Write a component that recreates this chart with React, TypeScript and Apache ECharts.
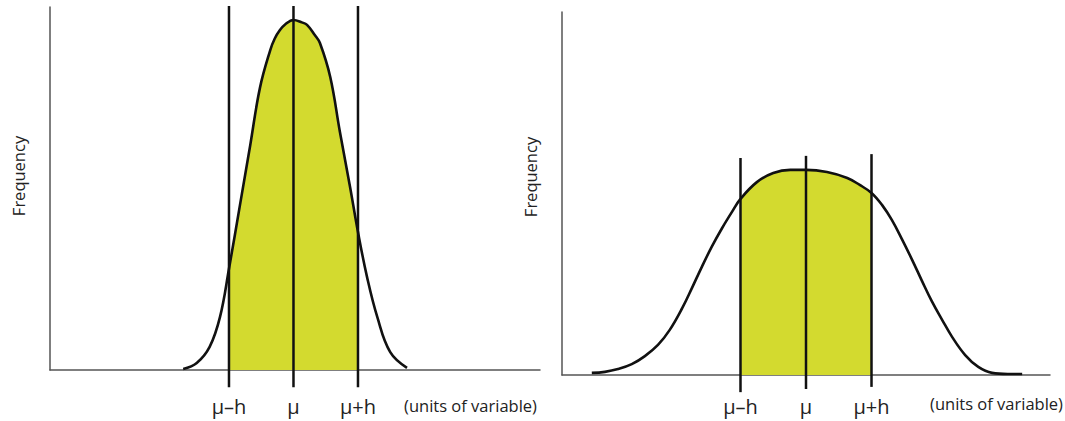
import React, { useEffect, useRef } from "react";
import * as echarts from "echarts";

// x in units of h around the mean (μ = 0), y = relative frequency
const leftCurveX = [-1.71, -1.5, -1.3, -1.14, -1.0, -0.83, -0.67, -0.52, -0.36, -0.29, -0.21, -0.13, 0, 0.13, 0.21, 0.33, 0.41, 0.57, 0.72, 0.88, 1.0, 1.14, 1.3, 1.5, 1.76];
const leftCurveY = [0.003, 0.02, 0.066, 0.151, 0.289, 0.471, 0.643, 0.806, 0.914, 0.947, 0.971, 0.987, 1.0, 0.993, 0.986, 0.957, 0.934, 0.837, 0.68, 0.52, 0.394, 0.266, 0.151, 0.051, 0.006];

const rightCurveX = [-3.27, -3.07, -2.87, -2.66, -2.46, -2.26, -2.08, -1.89, -1.74, -1.59, -1.44, -1.28, -1.13, -1.0, -0.75, -0.5, -0.24, 0, 0.32, 0.63, 0.82, 1.0, 1.16, 1.31, 1.47, 1.62, 1.77, 1.92, 2.08, 2.23, 2.43, 2.63, 2.84, 3.08, 3.3];
const rightCurveY = [0.006, 0.009, 0.017, 0.031, 0.054, 0.086, 0.129, 0.191, 0.249, 0.309, 0.366, 0.42, 0.466, 0.503, 0.551, 0.577, 0.586, 0.586, 0.58, 0.563, 0.543, 0.52, 0.486, 0.443, 0.386, 0.329, 0.269, 0.211, 0.157, 0.109, 0.057, 0.023, 0.006, 0.003, 0.003];

const tickValues = [-1, 0, 1];
const tickLabels = ["μ–h", "μ", "μ+h"];

const leftMarkerTop = [1.04, 1.04, 1.04];
const leftMarkerBottom = [-0.049, -0.049, -0.049];
const rightMarkerTop = [0.62, 0.626, 0.631];
const rightMarkerBottom = [-0.049, -0.04, -0.034];

const FONT = "'Open Sans', 'Noto Sans', sans-serif";
const FILL = "#d3da2f";
const INK = "#111111";
const AXIS = "#555555";

function pairs(xs: number[], ys: number[]) {
  return xs.map((x, i) => [x, ys[i]]);
}

function App() {
  const ref = useRef<HTMLDivElement>(null);
  useEffect(() => {
    if (!ref.current) return;
    const chart = echarts.init(ref.current, undefined, { renderer: "svg" });

    const leftPts = pairs(leftCurveX, leftCurveY);
    const rightPts = pairs(rightCurveX, rightCurveY);
    const leftShade = leftPts.filter((p) => p[0] >= -1 && p[0] <= 1);
    const rightShade = rightPts.filter((p) => p[0] >= -1 && p[0] <= 1);

    const xAxisBase = (gridIndex: number, min: number, max: number) => ({
      type: "value",
      gridIndex,
      min,
      max,
      axisLine: { show: true, onZero: false, lineStyle: { color: AXIS, width: 1.5 } },
      axisTick: { show: false },
      splitLine: { show: false },
      axisLabel: {
        show: true,
        customValues: tickValues,
        formatter: (v: number) => {
          const i = tickValues.indexOf(Math.round(v * 1000) / 1000);
          return i >= 0 ? tickLabels[i] : "";
        },
        color: "#222",
        fontFamily: FONT,
        fontSize: 20,
        margin: gridIndex === 0 ? 26 : 21,
      },
    });
    const yAxisBase = (gridIndex: number, max: number) => ({
      type: "value",
      gridIndex,
      min: 0,
      max,
      axisLine: { show: true, onZero: false, lineStyle: { color: AXIS, width: 1.5 } },
      axisTick: { show: false },
      axisLabel: { show: false },
      splitLine: { show: false },
    });

    const markerSeries = (idx: number, tops: number[], bottoms: number[]) =>
      tickValues.map((v, i) => ({
        type: "line",
        xAxisIndex: idx,
        yAxisIndex: idx,
        clip: false,
        symbol: "none",
        z: 4,
        lineStyle: { color: INK, width: 2.5 },
        data: [
          [v, bottoms[i]],
          [v, tops[i]],
        ],
      }));

    const textStyle = { fontFamily: FONT, fontSize: 16.5, fill: "#222" };

    const curve = (idx: number, data: number[][]) => ({
      type: "line",
      xAxisIndex: idx,
      yAxisIndex: idx,
      data,
      smooth: 0.4,
      symbol: "none",
      z: 3,
      lineStyle: { color: INK, width: 2.6 },
    });
    const shade = (idx: number, data: number[][]) => ({
      type: "line",
      xAxisIndex: idx,
      yAxisIndex: idx,
      data,
      smooth: 0.4,
      symbol: "none",
      z: 1,
      lineStyle: { width: 0 },
      areaStyle: { color: FILL, opacity: 1 },
    });

    chart.setOption({
      animation: false,
      grid: [
        { left: 50, right: 525, top: 7, bottom: 51 },
        { left: 562, right: 15, top: 12, bottom: 46 },
      ],
      xAxis: [xAxisBase(0, -3.775, 3.822), xAxisBase(1, -3.725, 3.725)],
      yAxis: [yAxisBase(0, 1.037), yAxisBase(1, 1.037)],
      graphic: [
        {
          type: "text",
          x: 18,
          y: 176,
          rotation: Math.PI / 2,
          style: { ...textStyle, text: "Frequency", align: "center", verticalAlign: "middle" },
        },
        {
          type: "text",
          x: 530,
          y: 177,
          rotation: Math.PI / 2,
          style: { ...textStyle, text: "Frequency", align: "center", verticalAlign: "middle" },
        },
        {
          type: "text",
          x: 537,
          y: 405,
          style: { ...textStyle, text: "(units of variable)", align: "right", verticalAlign: "middle" },
        },
        {
          type: "text",
          x: 1063,
          y: 403,
          style: { ...textStyle, text: "(units of variable)", align: "right", verticalAlign: "middle" },
        },
      ],
      series: [
        shade(0, leftShade),
        curve(0, leftPts),
        ...markerSeries(0, leftMarkerTop, leftMarkerBottom),
        shade(1, rightShade),
        curve(1, rightPts),
        ...markerSeries(1, rightMarkerTop, rightMarkerBottom),
      ],
    });
    return () => chart.dispose();
  }, []);
  return (
    <div
      ref={ref}
      style={{ position: "fixed", left: 0, top: 0, width: 1065, height: 421, background: "#fff" }}
    />
  );
}

export default App;
